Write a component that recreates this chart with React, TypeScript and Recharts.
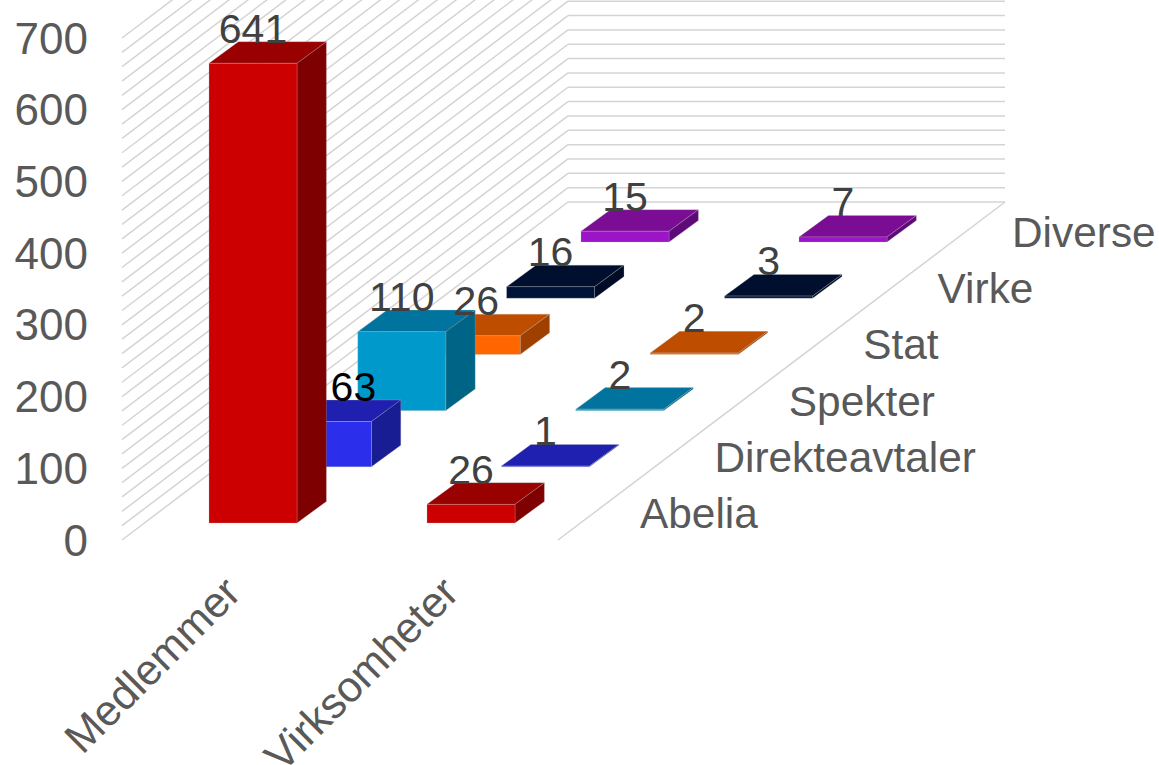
import { Bar, BarChart, CartesianGrid, LabelList, XAxis, YAxis } from "recharts";

const categories = ["Medlemmer", "Virksomheter"];
const seriesNames = ["Abelia", "Direkteavtaler", "Spekter", "Stat", "Virke", "Diverse"];
const abelia = [641, 26];
const direkteavtaler = [63, 1];
const spekter = [110, 2];
const stat = [26, 2];
const virke = [16, 3];
const diverse = [15, 7];
const yTicks = [0, 100, 200, 300, 400, 500, 600, 700];
const gridValues = [
  0, 20, 40, 60, 80, 100, 120, 140, 160, 180, 200, 220, 240, 260, 280, 300, 320, 340,
  360, 380, 400, 420, 440, 460, 480, 500, 520, 540, 560, 580, 600, 620, 640, 660, 680, 700,
];

const allValues = [abelia, direkteavtaler, spekter, stat, virke, diverse];
const palettes = [
  { front: "#cc0000", top: "#990000", side: "#7f0000" },
  { front: "#2b2feb", top: "#2020b0", side: "#191d93" },
  { front: "#0099cc", top: "#00749e", side: "#006486" },
  { front: "#ff6600", top: "#bf4d00", side: "#a04000" },
  { front: "#00143a", top: "#000f2e", side: "#000c26" },
  { front: "#9b14c8", top: "#7a0d94", side: "#5f0a78" },
];

const data = categories.map((name, i) => {
  const row: Record<string, string | number> = { name };
  seriesNames.forEach((s, j) => {
    row[s] = allValues[j][i];
  });
  return row;
});

// projection of the depth axis
const FONT = "'Liberation Sans', Arial, sans-serif";
const ROW_DX = 74.4;
const ROW_DY = 56.2;
const BASE_DY = 17;
const BOX_DX = 29.4;
const BOX_DY = 21.6;
const WALL_X = 122;
const WALL_BACK_X = 568;
const WALL_DY = 338;
const BACK_RIGHT_X = 1005;
const FLOOR_FRONT_RIGHT = 558;

const rowOffset = (row: number) => ({ dx: row * ROW_DX, dy: -BASE_DY - row * ROW_DY });

function Box3D(props: any) {
  const { x, y, width, height, index, row } = props;
  const { dx, dy } = rowOffset(row);
  const c = palettes[row];
  const left = x + dx;
  const right = left + width;
  const top = y + dy;
  const bottom = top + height;
  const edge = { stroke: "#b8b8b8", strokeOpacity: 0.35, strokeWidth: 0.8 };
  return (
    <g>
      <polygon
        points={`${left},${top} ${left + BOX_DX},${top - BOX_DY} ${right + BOX_DX},${top - BOX_DY} ${right},${top}`}
        fill={c.top}
        {...edge}
      />
      <polygon
        points={`${right},${top} ${right + BOX_DX},${top - BOX_DY} ${right + BOX_DX},${bottom - BOX_DY} ${right},${bottom}`}
        fill={c.side}
        {...edge}
      />
      <rect x={left} y={top} width={width} height={height} fill={c.front} {...edge} />
      {index === 1 && (
        <text x={left + 213} y={bottom + 5} fontFamily={FONT} fontSize={42.4} fill="#595959">
          {seriesNames[row]}
        </text>
      )}
    </g>
  );
}

function WallLine(props: any) {
  const y = props.y1;
  const backY = y - WALL_DY;
  return (
    <g stroke="#d4d4d4" strokeWidth={1.5} fill="none">
      <line x1={WALL_X} y1={y} x2={WALL_BACK_X} y2={backY} />
      <line x1={WALL_BACK_X} y1={backY} x2={BACK_RIGHT_X} y2={backY} />
    </g>
  );
}

function FloorEdge(props: any) {
  const y = props.y1;
  return (
    <line x1={FLOOR_FRONT_RIGHT} y1={y} x2={BACK_RIGHT_X} y2={y - WALL_DY} stroke="#d4d4d4" strokeWidth={1.5} />
  );
}

function ValueLabel(props: any) {
  const { x, y, width, value, row, index } = props;
  const { dx, dy } = rowOffset(row);
  const moved = row === 1 && index === 0;
  return (
    <text
      x={x + dx + width / 2 + (moved ? 26 : 0)}
      y={y + dy - BOX_DY + 1}
      textAnchor="middle"
      fontFamily={FONT}
      fontSize={41}
      fill={moved ? "#000000" : "#404040"}
    >
      {value}
    </text>
  );
}

function CategoryTick(props: any) {
  const { x, y, payload } = props;
  const endX = x - 10;
  const endY = y + 47;
  return (
    <text
      x={endX}
      y={endY}
      transform={`rotate(-45 ${endX} ${endY})`}
      textAnchor="end"
      fontFamily={FONT}
      fontSize={43}
      fill="#595959"
    >
      {payload.value}
    </text>
  );
}

export default function App() {
  const rowsBackToFront = [5, 4, 3, 2, 1, 0];
  return (
    <div style={{ position: "absolute", left: 0, top: 0, width: 1159, height: 765, background: "#fff" }}>
      <BarChart
        width={1159}
        height={765}
        data={data}
        margin={{ top: 38, right: 579, bottom: 0, left: 0 }}
        barSize={88}
        barGap={-88}
      >
        <CartesianGrid vertical={false} horizontalValues={gridValues} horizontal={(p: any) => <WallLine key={p.index} {...p} />} />
        <CartesianGrid vertical={false} horizontalValues={[0]} horizontal={(p: any) => <FloorEdge key={p.index} {...p} />} />
        <XAxis
          dataKey="name"
          axisLine={false}
          tickLine={false}
          height={225}
          interval={0}
          tick={<CategoryTick />}
        />
        <YAxis
          domain={[0, 700]}
          ticks={yTicks}
          interval={0}
          width={144}
          axisLine={false}
          tickLine={false}
          tickMargin={50}
          tick={{ fontFamily: FONT, fontSize: 44, fill: "#595959" }}
        />
        {rowsBackToFront.map((row) => (
          <Bar
            key={row}
            dataKey={seriesNames[row]}
            isAnimationActive={false}
            shape={(p: any) => <Box3D {...p} row={row} />}
          >
            <LabelList content={(p: any) => <ValueLabel {...p} row={row} />} />
          </Bar>
        ))}
      </BarChart>
    </div>
  );
}
